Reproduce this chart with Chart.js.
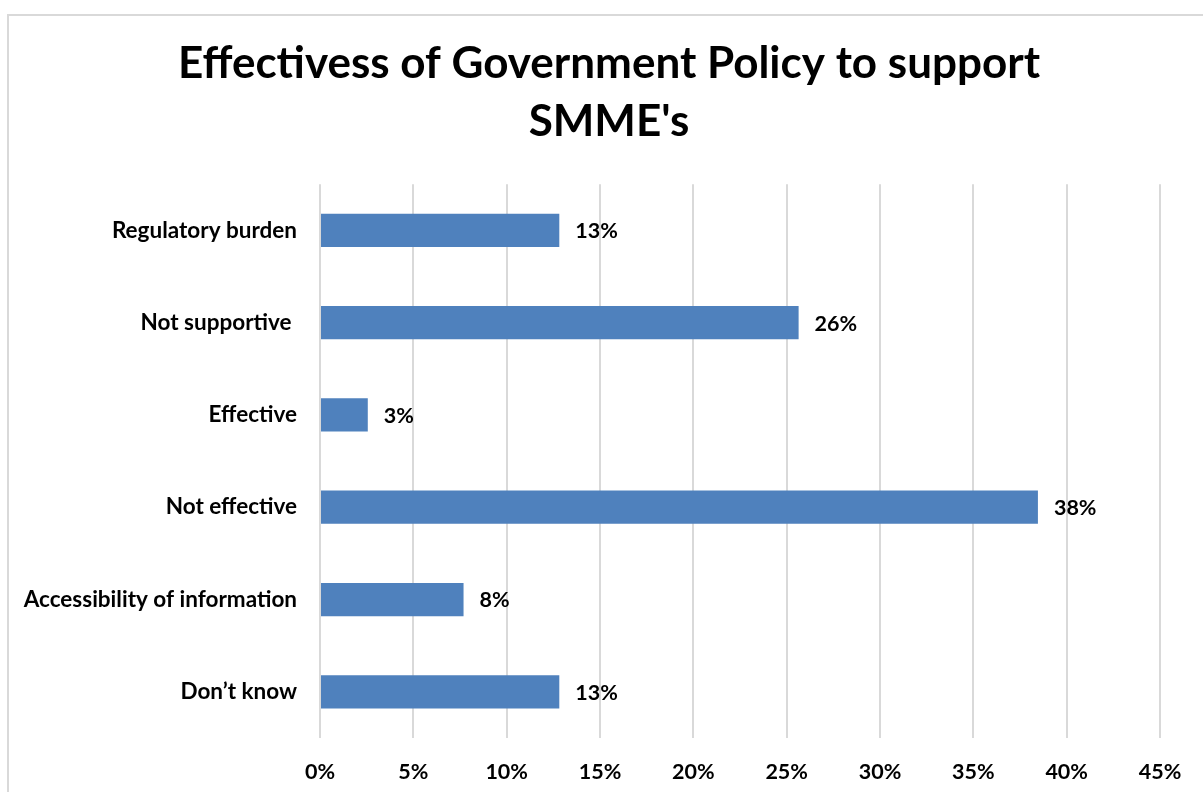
<!DOCTYPE html>
<html>
<head>
<meta charset="utf-8">
<script src="https://cdn.jsdelivr.net/npm/chart.js@4"></script>
<style>
  html, body { margin: 0; padding: 0; background: #fff; overflow: hidden; }
  #frame {
    position: absolute; left: 7px; top: 14px; width: 1300px; height: 900px;
    border-left: 2px solid #d9d9d9; border-top: 2px solid #d9d9d9;
  }
  #policy { position: absolute; left: 0; top: 0; }
</style>
</head>
<body>
<div id="frame"></div>
<canvas id="policy" width="1203" height="792"></canvas>
<script>
// Survey answers (share of respondents, %)
const categories = ["Regulatory burden", "Not supportive ", "Effective", "Not effective", "Accessibility of information", "Don’t know"];
const shares = [12.82, 25.64, 2.56, 38.46, 7.69, 12.82];
const xTicks = [0, 5, 10, 15, 20, 25, 30, 35, 40, 45];

const fontFamily = "Lato, 'Open Sans', sans-serif";

// Draws the rounded percentage just right of each bar
const barValueLabels = {
    id: "barValueLabels",
    afterDatasetsDraw(chart) {
        const ctx = chart.ctx;
        const meta = chart.getDatasetMeta(0);
        ctx.save();
        ctx.font = "bold 21.5px " + fontFamily;
        ctx.fillStyle = "#000";
        ctx.textAlign = "left";
        ctx.textBaseline = "middle";
        meta.data.forEach((bar, i) => {
            ctx.fillText(Math.round(shares[i]) + "%", bar.x + 16, bar.y + 1);
        });
        ctx.restore();
    }
};

// Center the title over the whole framed area, not just the canvas box
const titleSpan = {
    id: "titleSpan",
    afterLayout(chart) {
        chart.titleBlock.left = 0;
        chart.titleBlock.right = 1218;
    }
};

new Chart(document.getElementById("policy"), {
    type: "bar",
    plugins: [barValueLabels, titleSpan],
    data: {
        labels: categories,
        datasets: [{
            data: shares,
            backgroundColor: "#4f81bd",
            barPercentage: 0.36,
            categoryPercentage: 1.0,
        }],
    },
    options: {
        indexAxis: "y",
        responsive: false,
        animation: false,
        layout: { padding: { left: 0, right: 43, top: 0, bottom: 0 } },
        plugins: {
            legend: { display: false },
            tooltip: { enabled: false },
            title: {
                display: true,
                text: ["Effectivess of Government Policy to support", "SMME's"],
                color: "#000",
                font: { family: fontFamily, size: 44, weight: "bold", lineHeight: 1.32 },
                padding: { top: 35, bottom: 33 },
            },
        },
        scales: {
            x: {
                min: 0,
                max: 45,
                afterBuildTicks: (scale) => { scale.ticks = xTicks.map(v => ({ value: v })); },
                afterFit: (scale) => { scale.height = 54; },
                grid: { color: "#d9d9d9", lineWidth: 2, drawTicks: false },
                border: { display: false },
                ticks: {
                    padding: 21,
                    color: "#000",
                    font: { family: fontFamily, size: 21.5, weight: "bold" },
                    callback: (v) => v + "%",
                },
            },
            y: {
                afterFit: (scale) => { scale.width = 320; },
                grid: { display: false, drawTicks: false },
                border: { display: false },
                ticks: {
                    padding: 23,
                    color: "#000",
                    font: { family: fontFamily, size: 22.5, weight: "bold" },
                },
            },
        },
    },
});
</script>
</body>
</html>
